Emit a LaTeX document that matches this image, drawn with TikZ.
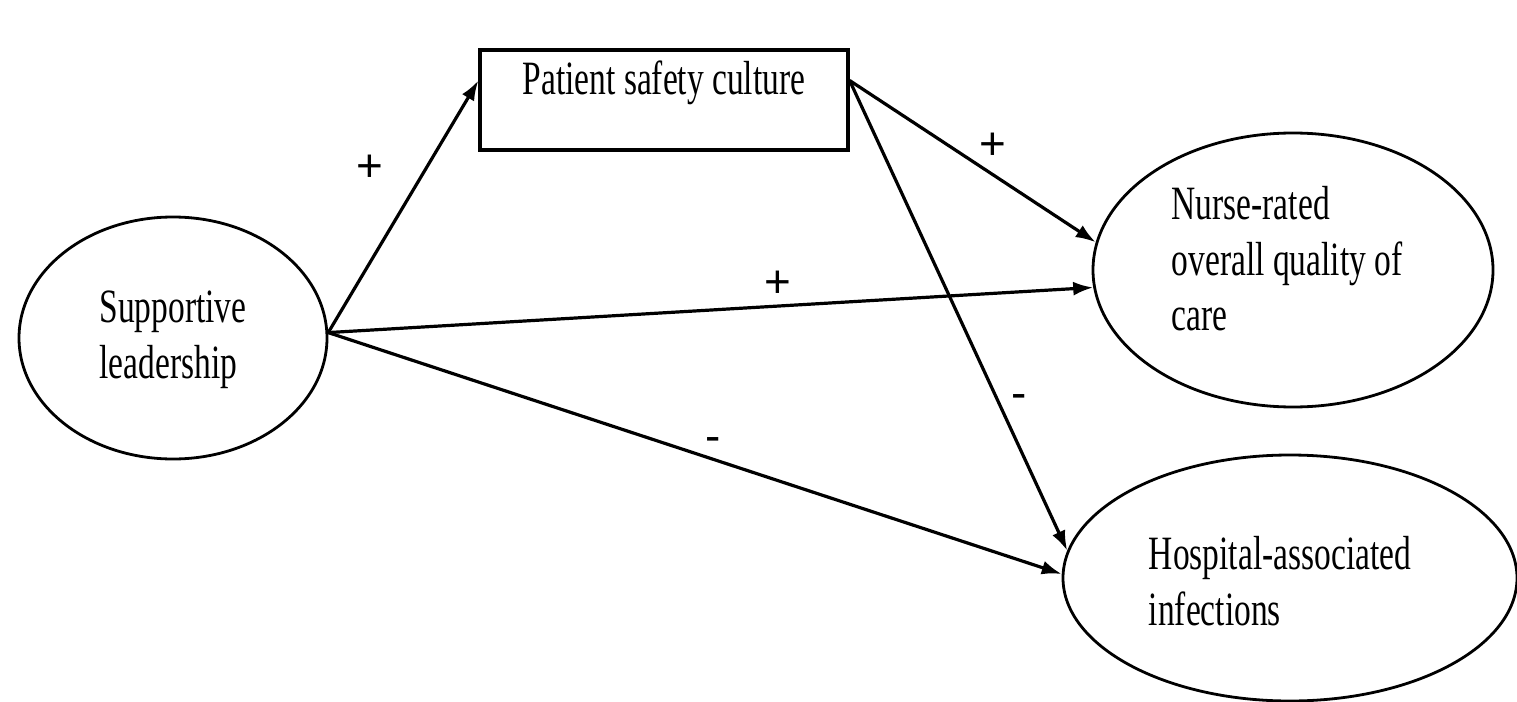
\documentclass[tikz,border=0pt]{standalone}
\usepackage{fontspec}
\setmainfont{Liberation Serif}[FakeStretch=0.70]
\newfontfamily\signfont{Liberation Sans}
\usetikzlibrary{shapes.geometric,arrows.meta}
\newcommand\movetext[3]{\hbox{\kern#1\raisebox{#2}[\height][\depth]{\begin{tabular}{@{}l@{}}#3\end{tabular}}\kern-#1}}
\begin{document}
\begin{tikzpicture}[x=1bp,y=-1bp,
  oval/.style={ellipse,draw,line width=2.8bp,inner sep=0pt,align=left,font=\fontsize{48}{56}\selectfont},
  boxnode/.style={rectangle,draw,line width=3.2bp,inner sep=0pt,minimum width=368bp,minimum height=100bp,font=\fontsize{48}{56}\selectfont},
  link/.style={line width=3.2bp,-{Latex[length=20bp,width=14bp]}},
  sign/.style={font=\signfont\fontsize{46}{46}\selectfont,inner sep=0pt}]
\useasboundingbox (0,0) rectangle (1517,702);
\fill[white] (0,0) rectangle (1517,702);
\node[oval,minimum width=308bp,minimum height=242bp] (supp) at (173,338) {\movetext{0bp}{-1bp}{Supportive\\leadership}};
\node[boxnode] (psc) at (664,100) {\raisebox{5bp}[0pt][0pt]{Patient safety culture}};
\node[oval,minimum width=400bp,minimum height=274bp] (nurse) at (1293,270) {\movetext{-6bp}{6bp}{Nurse-rated\\overall quality of\\care}};
\node[oval,minimum width=454bp,minimum height=246bp] (hai) at (1290,578) {\movetext{-10bp}{-8bp}{Hospital-associated\\infections}};
\draw[link] (supp.2) -- (psc.174.7);
\draw[link] (supp.2) -- (nurse.185.7);
\draw[link] (supp.2) -- (hai.179.2);
\draw[link] (psc.6) -- (nurse.172.3);
\draw[link] (psc.6) -- (hai.173);
\node[sign] (s1) at (370,168) {+};
\node[sign] (s2) at (993,146) {+};
\node[sign] (s3) at (778,284) {+};
\node[sign] (s4) at (1019,402) {-};
\node[sign] (s5) at (713,445) {-};
\end{tikzpicture}
\end{document}
